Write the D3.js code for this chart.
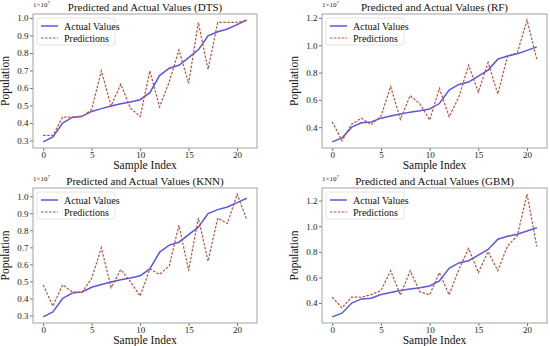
<!DOCTYPE html>
<html>
<head>
<meta charset="utf-8">
<script src="https://cdn.jsdelivr.net/npm/d3@7.9.0/dist/d3.min.js"></script>
<style>
  body { margin: 0; background: #fff; }
  svg { display: block; }
  svg text { font-family: "Liberation Serif", "Times New Roman", serif; }
</style>
</head>
<body>
<svg id="chart" width="550" height="346"></svg>
<script>
// population values in units of 1e7
const sampleIndex = d3.range(22);
const actual = [0.292, 0.321, 0.400, 0.432, 0.438, 0.466, 0.482, 0.497, 0.510, 0.520, 0.533,
  0.573, 0.671, 0.713, 0.730, 0.774, 0.818, 0.898, 0.921, 0.937, 0.962, 0.988];
const predDTS = [0.329, 0.329, 0.434, 0.434, 0.436, 0.478, 0.698, 0.497, 0.622, 0.485, 0.436,
  0.698, 0.492, 0.635, 0.818, 0.626, 0.975, 0.706, 0.975, 0.975, 0.975, 0.988];
const predRF = [0.440, 0.300, 0.422, 0.466, 0.418, 0.480, 0.697, 0.458, 0.631, 0.571, 0.452,
  0.684, 0.477, 0.620, 0.854, 0.656, 0.874, 0.643, 0.920, 0.945, 1.184, 0.898];
const predKNN = [0.479, 0.355, 0.480, 0.439, 0.435, 0.518, 0.697, 0.464, 0.569, 0.499, 0.414,
  0.573, 0.541, 0.591, 0.830, 0.564, 0.873, 0.619, 0.871, 0.840, 1.012, 0.861];
const predGBM = [0.445, 0.362, 0.447, 0.445, 0.466, 0.497, 0.652, 0.462, 0.652, 0.487, 0.464,
  0.637, 0.464, 0.662, 0.826, 0.638, 0.802, 0.652, 0.846, 0.925, 1.250, 0.842];
const xTicks = [0, 5, 10, 15, 20];
const yTicksDTS = [0.3, 0.4, 0.5, 0.6, 0.7, 0.8, 0.9, 1.0];
const yTicksRF = [0.4, 0.6, 0.8, 1.0, 1.2];
const yTicksKNN = [0.3, 0.4, 0.5, 0.6, 0.7, 0.8, 0.9, 1.0];
const yTicksGBM = [0.4, 0.6, 0.8, 1.0, 1.2];

const svg = d3.select('#chart');
const actualColor = '#5b55e6';
const predColor = '#c0503a';
const serif = '"Liberation Serif", "Times New Roman", serif';

function drawPanel(box, name, preds, yTicks) {
  const g = svg.append('g');
  const lo = d3.min([...actual, ...preds]), hi = d3.max([...actual, ...preds]);
  const pad = (hi - lo) * 0.05;
  const x = d3.scaleLinear().domain([-1.05, 22.05]).range([box.x0, box.x1]);
  const y = d3.scaleLinear().domain([lo - pad, hi + pad]).range([box.y1, box.y0]);

  // axes
  g.append('g')
    .attr('transform', `translate(0,${box.y1})`)
    .call(d3.axisBottom(x).tickValues(xTicks).tickSize(3).tickPadding(0.5).tickFormat(d3.format('d')))
    .call(a => a.select('.domain').remove());
  g.append('g')
    .attr('transform', `translate(${box.x0},0)`)
    .call(d3.axisLeft(y).tickValues(yTicks).tickSize(3).tickPadding(1.5).tickFormat(d3.format('.1f')))
    .call(a => a.select('.domain').remove());
  g.selectAll('g').attr('font-family', serif).attr('font-size', 9);
  g.selectAll('.tick line').attr('stroke', '#777');
  g.selectAll('.tick text').attr('fill', '#222');

  // frame
  g.append('rect')
    .attr('x', box.x0).attr('y', box.y0)
    .attr('width', box.x1 - box.x0).attr('height', box.y1 - box.y0)
    .attr('fill', 'none').attr('stroke', '#999').attr('stroke-width', 0.9);

  const line = d3.line().x((d, i) => x(sampleIndex[i])).y(d => y(d));
  g.append('path').datum(actual).attr('d', line)
    .attr('fill', 'none').attr('stroke', actualColor).attr('stroke-width', 1.5);
  g.append('path').datum(preds).attr('d', line)
    .attr('fill', 'none').attr('stroke', predColor).attr('stroke-width', 1.2)
    .attr('stroke-dasharray', '2.5,1.5');

  // title, labels
  g.append('text').attr('x', (box.x0 + box.x1) / 2).attr('y', box.y0 - 3)
    .attr('text-anchor', 'middle').attr('font-size', 11).attr('fill', '#111')
    .text(`Predicted and Actual Values (${name})`);
  g.append('text').attr('x', (box.x0 + box.x1) / 2).attr('y', box.y1 + 21)
    .attr('text-anchor', 'middle').attr('font-size', 11.5).attr('fill', '#111')
    .text('Sample Index');
  g.append('text')
    .attr('transform', `translate(${box.x0 - 24},${(box.y0 + box.y1) / 2}) rotate(-90)`)
    .attr('text-anchor', 'middle').attr('font-size', 11.5).attr('fill', '#111')
    .text('Population');
  const off = g.append('text').attr('x', box.x0).attr('y', box.y0 - 7)
    .attr('font-size', 7).attr('fill', '#222');
  off.append('tspan').text('1×10');
  off.append('tspan').attr('dy', -3).attr('font-size', 5).text('7');

  // legend
  const lg = g.append('g').attr('transform', `translate(${box.x0 + 4},${box.y0 + 4})`);
  lg.append('rect').attr('width', 78).attr('height', 27).attr('rx', 2)
    .attr('fill', 'rgba(255,255,255,0.8)').attr('stroke', '#ddd').attr('stroke-width', 0.8);
  const items = [
    { label: 'Actual Values', color: actualColor, dash: null, w: 1.5 },
    { label: 'Predictions', color: predColor, dash: '2.5,1.5', w: 1.2 }
  ];
  items.forEach((it, i) => {
    const yy = 8 + i * 12;
    lg.append('line').attr('x1', 4).attr('x2', 21).attr('y1', yy).attr('y2', yy)
      .attr('stroke', it.color).attr('stroke-width', it.w)
      .attr('stroke-dasharray', it.dash);
    lg.append('text').attr('x', 27).attr('y', yy + 3.5)
      .attr('font-size', 10).attr('fill', '#111').text(it.label);
  });
}

drawPanel({ x0: 33, x1: 257, y0: 14, y1: 148 }, 'DTS', predDTS, yTicksDTS);
drawPanel({ x0: 322, x1: 547, y0: 14, y1: 148 }, 'RF', predRF, yTicksRF);
drawPanel({ x0: 33, x1: 257, y0: 188, y1: 323 }, 'KNN', predKNN, yTicksKNN);
drawPanel({ x0: 322, x1: 547, y0: 188, y1: 323 }, 'GBM', predGBM, yTicksGBM);
</script>
</body>
</html>
